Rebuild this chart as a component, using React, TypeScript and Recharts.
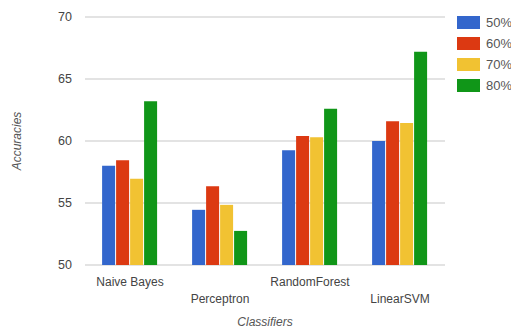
import React from 'react';
import { BarChart, Bar, XAxis, YAxis, CartesianGrid } from 'recharts';

const classifiers = ['Naive Bayes', 'Perceptron', 'RandomForest', 'LinearSVM'];
const split50 = [58.0, 54.45, 59.25, 60.0];
const split60 = [58.45, 56.35, 60.4, 61.6];
const split70 = [56.95, 54.85, 60.3, 61.45];
const split80 = [63.2, 52.75, 62.6, 67.2];
const yTicks = [50, 55, 60, 65, 70];

const seriesList = [
    { key: 's50', name: '50%', color: '#3366cc', values: split50 },
    { key: 's60', name: '60%', color: '#dc3912', values: split60 },
    { key: 's70', name: '70%', color: '#f1c232', values: split70 },
    { key: 's80', name: '80%', color: '#109618', values: split80 },
];

const data = classifiers.map((name, i) => {
    const row: Record<string, string | number> = { name };
    seriesList.forEach(s => { row[s.key] = s.values[i]; });
    return row;
});

const FONT = '"Liberation Sans", Arial, sans-serif';

const StaggeredTick = (props: any) => {
    const { x, y, payload, index } = props;
    return (
        <text x={x} y={y + (index % 2 ? 30 : 13)} textAnchor="middle" fill="#444" fontSize={12} fontFamily={FONT}>
            {payload.value}
        </text>
    );
};

// legend drawn beside the chart so it doesn't shrink the plot area
const ChartLegend = () => (
    <div style={{ position: 'absolute', top: 12, left: 457, fontFamily: FONT, fontSize: 13, color: '#555' }}>
        {seriesList.map(s => (
            <div key={s.key} style={{ display: 'flex', alignItems: 'center', height: 21 }}>
                <span style={{ display: 'inline-block', width: 23, height: 13, background: s.color, marginRight: 6 }} />
                <span>{s.name}</span>
            </div>
        ))}
    </div>
);

export default function App() {
    return (
        <div style={{ position: 'relative', width: 511, height: 329, background: '#fff' }}>
            <style>{`body{margin:0}`}</style>
            <BarChart
                width={511}
                height={329}
                data={data}
                margin={{ top: 17, right: 66, left: 0, bottom: 0 }}
                barCategoryGap="19%"
                barGap={1}
            >
                <CartesianGrid vertical={false} stroke="#dadada" strokeWidth={1.5} />
                <XAxis
                    dataKey="name"
                    axisLine={false}
                    tickLine={false}
                    height={64}
                    interval={0}
                    tick={<StaggeredTick />}
                    label={{
                        content: () => (
                            <text x={265} y={326} textAnchor="middle" fontStyle="italic" fill="#555" fontSize={12} fontFamily={FONT}>
                                Classifiers
                            </text>
                        ),
                    }}
                />
                <YAxis
                    width={85}
                    domain={[50, 70]}
                    ticks={yTicks}
                    axisLine={false}
                    tickLine={false}
                    tickMargin={7}
                    tick={{ fill: '#444', fontSize: 12.5, fontFamily: FONT }}
                    label={{
                        content: () => (
                            <text transform="translate(21,141) rotate(-90)" textAnchor="middle" fontStyle="italic" fill="#555" fontSize={12} fontFamily={FONT}>
                                Accuracies
                            </text>
                        ),
                    }}
                />
                {seriesList.map(s => (
                    <Bar key={s.key} dataKey={s.key} name={s.name} fill={s.color} isAnimationActive={false} />
                ))}
            </BarChart>
            <ChartLegend />
        </div>
    );
}
